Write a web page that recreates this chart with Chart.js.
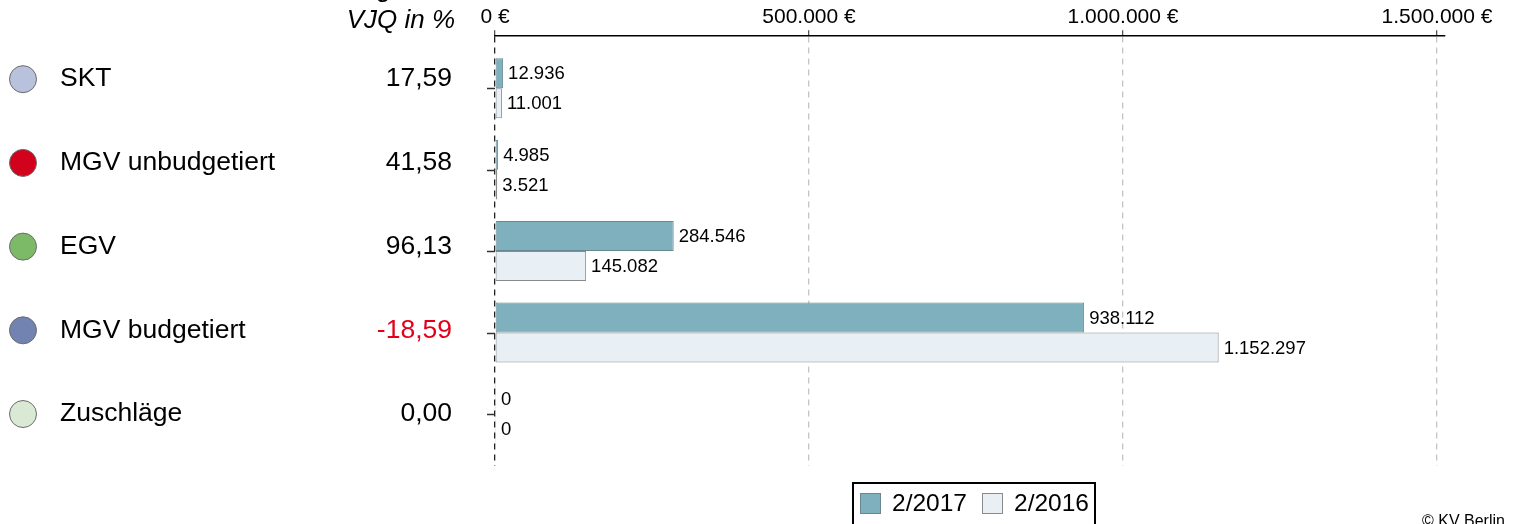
<!DOCTYPE html>
<html>
<head>
<meta charset="utf-8">
<script src="https://cdn.jsdelivr.net/npm/chart.js@4"></script>
<style>
  html, body { margin: 0; padding: 0; background: #fff; }
  #wrap { width: 1513px; height: 524px; position: relative; }
</style>
</head>
<body>
<div id="wrap"><canvas id="chart" width="1513" height="524"></canvas></div>
<script>
// Kategorien und Werte
const kategorien = ['SKT', 'MGV unbudgetiert', 'EGV', 'MGV budgetiert', 'Zuschläge'];
const punktFarben = ['#b8c2dc', '#d2021c', '#7cba68', '#7283b1', '#d9e9d3'];
const vjq = [17.59, 41.58, 96.13, -18.59, 0.00];
const werte2017 = [12936, 4985, 284546, 938112, 0];
const werte2016 = [11001, 3521, 145082, 1152297, 0];
const serien = ['2/2017', '2/2016'];
const xTicks = [0, 500000, 1000000, 1500000];

const fmt = v => v.toLocaleString('de-DE');
const FONT = '"Liberation Sans", Arial, sans-serif';
const punkte = werte => werte.map((v, i) => ({ x: v, y: i }));

// linke Spalte, Titel, Werte an den Balken, Legende
const beschriftung = {
  id: 'beschriftung',
  afterDraw(chart) {
    const ctx = chart.ctx;
    const y = chart.scales.y;
    const area = chart.chartArea;
    ctx.save();

    // kleine Ticks an der y-Achse
    ctx.strokeStyle = '#333';
    ctx.lineWidth = 1.5;
    kategorien.forEach((k, i) => {
      const py = Math.round(y.getPixelForValue(i)) + 0.5;
      ctx.beginPath();
      ctx.moveTo(area.left - 8, py);
      ctx.lineTo(area.left, py);
      ctx.stroke();
    });

    // Kopfzeile
    ctx.fillStyle = '#000';
    ctx.font = 'italic 26px ' + FONT;
    ctx.textAlign = 'right';
    ctx.textBaseline = 'alphabetic';
    ctx.fillText('Veränderung', 392, -3);
    ctx.textBaseline = 'middle';
    ctx.fillText('VJQ in %', 455, 21);

    // Kategorien links
    kategorien.forEach((k, i) => {
      const py = y.getPixelForValue(i) - 9 + i * 2.25;
      ctx.beginPath();
      ctx.arc(23, py, 13.5, 0, Math.PI * 2);
      ctx.fillStyle = punktFarben[i];
      ctx.fill();
      ctx.strokeStyle = '#6b6b6b';
      ctx.lineWidth = 1;
      ctx.stroke();

      ctx.font = '26.5px ' + FONT;
      ctx.textAlign = 'left';
      ctx.fillStyle = '#000';
      ctx.fillText(k, 60, py);

      ctx.textAlign = 'right';
      ctx.fillStyle = vjq[i] < 0 ? '#e3001b' : '#000';
      ctx.fillText(vjq[i].toLocaleString('de-DE', { minimumFractionDigits: 2, maximumFractionDigits: 2 }), 452, py);
    });

    // Werte an den Balken
    ctx.font = '18.5px ' + FONT;
    ctx.fillStyle = '#000';
    ctx.textAlign = 'left';
    chart.data.datasets.forEach((ds, di) => {
      const meta = chart.getDatasetMeta(di);
      meta.data.forEach((bar, i) => {
        ctx.fillText(fmt(ds.data[i].x), bar.x + 5, bar.y + 1);
      });
    });

    // Legende
    const lx = 852, ly = 482, lw = 244;
    ctx.strokeStyle = '#000';
    ctx.lineWidth = 2;
    ctx.strokeRect(lx + 1, ly + 1, lw - 2, 60);
    let px = 860;
    ctx.font = '24.5px ' + FONT;
    chart.data.datasets.forEach((ds, di) => {
      ctx.fillStyle = ds.backgroundColor;
      ctx.fillRect(px, 493, 21, 21);
      ctx.strokeStyle = ds.borderColor;
      ctx.lineWidth = 1;
      ctx.strokeRect(px + 0.5, 493.5, 20, 20);
      ctx.fillStyle = '#000';
      ctx.textAlign = 'left';
      ctx.fillText(ds.label, px + 32, 504);
      px += 122;
    });

    // Quelle
    ctx.font = '16px ' + FONT;
    ctx.textAlign = 'left';
    ctx.textBaseline = 'top';
    ctx.fillStyle = '#000';
    ctx.fillText('© KV Berlin', 1422, 514);

    ctx.restore();
  }
};

new Chart(document.getElementById('chart'), {
  type: 'bar',
  data: {
    datasets: [
      {
        label: serien[0],
        data: punkte(werte2017),
        backgroundColor: '#7fb0be',
        borderColor: '#688790',
        borderWidth: 1,
        borderSkipped: false,
        minBarLength: 1
      },
      {
        label: serien[1],
        data: punkte(werte2016),
        backgroundColor: '#e8f0f6',
        borderColor: '#8a8a8a',
        borderWidth: 1,
        borderSkipped: false,
        minBarLength: 1
      }
    ]
  },
  plugins: [beschriftung],
  options: {
    indexAxis: 'y',
    responsive: false,
    animation: false,
    categoryPercentage: 0.736,
    barPercentage: 1.0,
    layout: { padding: { left: 495, right: 68, top: 5, bottom: 58 } },
    plugins: {
      legend: { display: false },
      tooltip: { enabled: false }
    },
    scales: {
      x: {
        type: 'linear',
        position: 'top',
        min: 0,
        max: 1512739,
        afterBuildTicks: scale => { scale.ticks = xTicks.map(v => ({ value: v })); },
        ticks: {
          callback: v => fmt(v) + ' €',
          color: '#000',
          font: { family: FONT, size: 21 },
          padding: 0,
          maxRotation: 0
        },
        grid: {
          color: ctx => (ctx.tick && ctx.tick.value === 0) ? '#222' : '#c4c4c4',
          lineWidth: 1.3,
          tickColor: '#555',
          tickLength: 6,
          drawOnChartArea: true
        },
        border: { display: true, color: '#000', width: 1.5, dash: [6, 5] }
      },
      y: {
        type: 'linear',
        display: false,
        reverse: true,
        offset: false,
        min: -0.638,
        max: 4.638,
        afterBuildTicks: scale => { scale.ticks = kategorien.map((k, i) => ({ value: i })); }
      }
    }
  }
});
</script>
</body>
</html>
